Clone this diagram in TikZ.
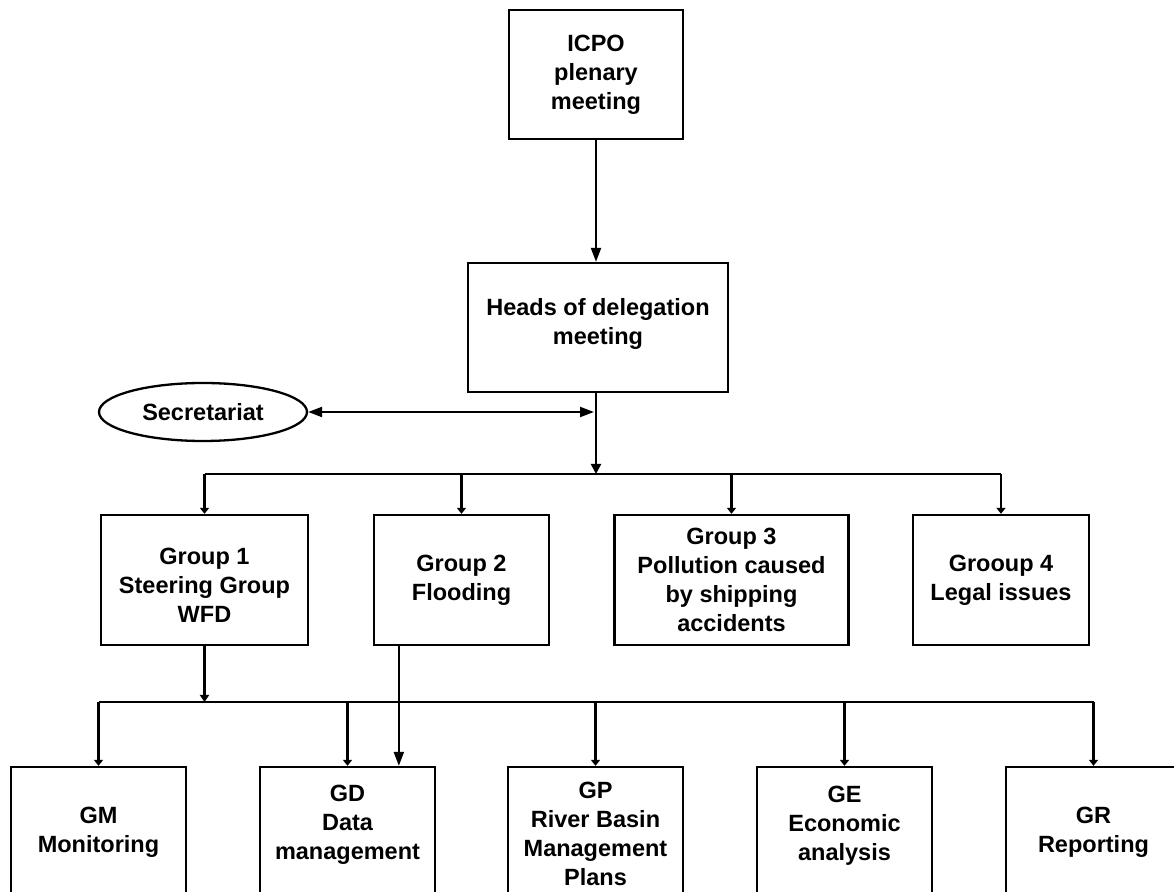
\documentclass[tikz,border=0pt]{standalone}
\usepackage{fontspec}
\setmainfont{Liberation Sans}
\usetikzlibrary{arrows.meta,shapes.geometric}
\begin{document}
\begin{tikzpicture}[x=0.5pt,y=-0.5pt,
  lbl/.style={font=\fontsize{11.75}{14.5}\selectfont\bfseries,align=center,inner sep=0pt},
  box/.style={lbl,draw,line width=1.15pt},
  conn/.style={line width=1.05pt},
  sarrow/.style={conn,-{Triangle[length=3pt,width=4.5pt]}},
  barrow/.style={conn,-{Triangle[length=7pt,width=5pt]}},
]
\useasboundingbox (0,0) rectangle (1174,892);
\fill[white] (0,0) rectangle (1174,892);
\clip (0,0) rectangle (1174,892);

% top
\node[box,minimum width=87pt,minimum height=64.5pt] (icpo) at (596,74.5) {ICPO\\plenary\\meeting};
\node[box,minimum width=130pt,minimum height=64.5pt] (heads) at (598,327.5) {};
\node[lbl] (headst) at (598,324) {Heads of delegation\\meeting};
\node[lbl,draw,ellipse,line width=1.15pt,minimum width=104pt,minimum height=29pt] (sec) at (203,412) {Secretariat};

% groups
\node[box,minimum width=103.5pt,minimum height=65pt] (g1) at (204.5,580) {};
\node[lbl] (g1t) at (204.5,585) {Group 1\\Steering Group\\WFD};
\node[box,minimum width=87.5pt,minimum height=65pt] (g2) at (461.5,580) {Group 2\\Flooding};
\node[box,minimum width=117pt,minimum height=65pt] (g3) at (731.5,580) {Group 3\\Pollution caused\\by shipping\\accidents};
\node[box,minimum width=88pt,minimum height=65pt] (g4) at (1001,580) {Grooup 4\\Legal issues};

% bottom
\node[box,minimum width=87.5pt,minimum height=65pt] (gm) at (98.5,832) {GM\\Monitoring};
\node[box,minimum width=87.5pt,minimum height=65pt] (gd) at (347.5,832) {};
\node[lbl] (gdt) at (347.5,825) {GD\\Data\\management};
\node[box,minimum width=87.5pt,minimum height=65pt] (gp) at (595.5,832) {};
\node[lbl] (gpt) at (595.5,834) {GP\\River Basin\\Management\\Plans};
\node[box,minimum width=87.5pt,minimum height=65pt] (ge) at (844.5,832) {};
\node[lbl] (get) at (844.5,826) {GE\\Economic\\analysis};
\node[box,minimum width=87.5pt,minimum height=65pt] (gr) at (1093.5,832) {GR\\Reporting};

% junctions
\coordinate (t1) at (596,474);
\coordinate (js) at (594,412);
\coordinate (t2) at (204,702);

% connectors
\draw[barrow] (icpo.south) -- (icpo.south |- heads.north);
\draw[conn,{Triangle[length=7pt,width=5pt]}-{Triangle[length=7pt,width=5pt]}] (sec.east) -- (sec.east -| js);
\draw[conn,-{Triangle[length=5pt,width=5pt]}] (heads.south -| t1) -- (t1);
\draw[conn] (g1.north |- t1) -- (g4.north |- t1);
\foreach \g in {g1,g2,g3,g4} \draw[sarrow] (\g.north |- t1) -- (\g.north);

\draw[conn,-{Triangle[length=3.5pt,width=4.5pt]}] (g1.south) -- (g1.south |- t2);
\draw[conn] (gm.north |- t2) -- (gr.north |- t2);
\foreach \g in {gm,gd,gp,ge,gr} \draw[sarrow] (\g.north |- t2) -- (\g.north);
\draw[barrow] ([xshift=13pt]g2.south west) -- ([xshift=13pt]g2.south west |- gd.north);
\end{tikzpicture}
\end{document}
